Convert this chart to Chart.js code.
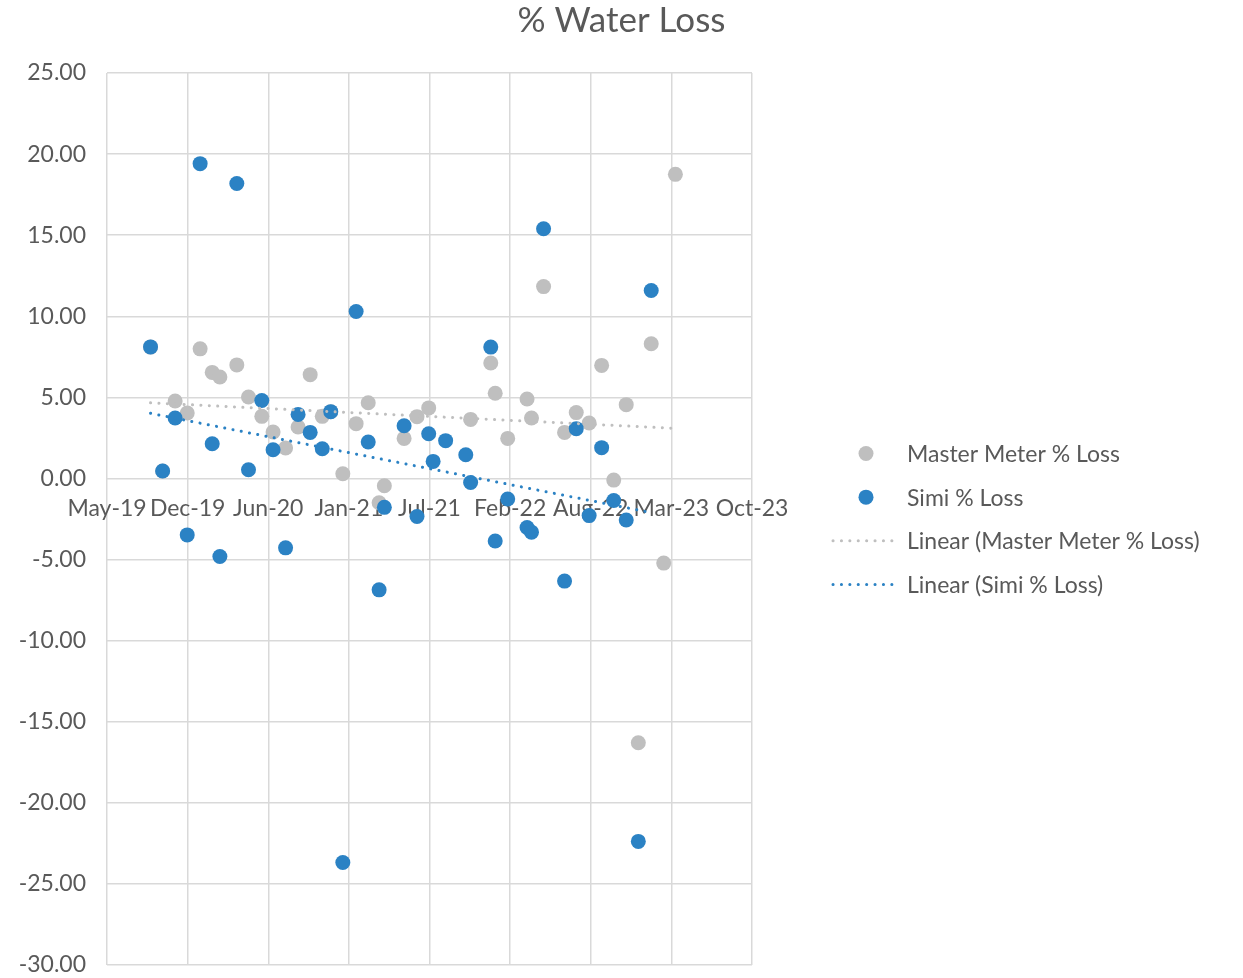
<!DOCTYPE html>
<html>
<head>
<meta charset="utf-8">
<title>% Water Loss</title>
<script src="https://cdn.jsdelivr.net/npm/chart.js@4.4.1/dist/chart.umd.min.js"></script>
<style>
    html, body { margin: 0; padding: 0; background: #ffffff; }
    canvas { display: block; }
</style>
</head>
<body>
<canvas id="waterLossChart" width="1243" height="978"></canvas>
<script>
// Reading dates (one per month)
const readingDates = [
    '2019-08-31', '2019-09-30', '2019-10-31', '2019-11-30', '2020-01-01', '2020-01-31',
    '2020-02-19', '2020-04-01', '2020-04-30', '2020-06-02', '2020-06-30', '2020-07-31',
    '2020-08-31', '2020-09-30', '2020-10-30', '2020-11-20', '2020-12-20', '2021-01-22',
    '2021-02-21', '2021-03-20', '2021-04-02', '2021-05-21', '2021-06-22', '2021-07-21',
    '2021-08-01', '2021-09-01', '2021-10-21', '2021-11-02', '2021-12-22', '2022-01-02',
    '2022-02-02', '2022-03-22', '2022-04-02', '2022-05-02', '2022-06-23', '2022-07-22',
    '2022-08-23', '2022-09-23', '2022-10-23', '2022-11-23', '2022-12-23', '2023-01-24',
    '2023-02-24', '2023-03-25'
];

// Master meter % loss for each reading (null = no value)
const masterMeterLoss = [
    8.10, 0.46, 4.78, 4.04, 7.99, 6.54,
    6.26, 7.00, 5.02, 3.83, 2.86, 1.88,
    3.17, 6.40, 3.83, 4.12, 0.29, 3.38,
    4.67, -1.50, -0.45, 2.47, 3.81, 4.35,
    null, null, null, 3.64, 7.12, 5.25,
    2.47, 4.90, 3.73, 11.83, 2.84, 4.06,
    3.42, 6.97, -0.10, 4.55, -16.30, 8.31,
    -5.22, 18.75
];

// Simi % loss for each reading (null = no value)
const simiLoss = [
    8.11, 0.46, 3.73, -3.48, 19.41, 2.14,
    -4.81, 18.19, 0.54, 4.81, 1.77, -4.28,
    3.95, 2.84, 1.83, 4.12, -23.68, 10.29,
    2.25, -6.87, -1.78, 3.25, -2.35, 2.76,
    1.05, 2.33, 1.46, -0.25, 8.10, -3.86,
    -1.27, -3.02, -3.31, 15.40, -6.33, 3.07,
    -2.29, 1.90, -1.36, -2.56, -22.38, 11.59,
    null, null
];

// Axis bounds: x in Excel date serials (May-19 .. Oct-23 every 200 days), y in percent
const xAxisMin = 43600;
const xAxisMax = 45200;
const xAxisStep = 200;
const yAxisMin = -30;
const yAxisMax = 25;
const yAxisStep = 5;

const monthNames = ['Jan', 'Feb', 'Mar', 'Apr', 'May', 'Jun', 'Jul', 'Aug', 'Sep', 'Oct', 'Nov', 'Dec'];

const grayColor = '#bfbfbf';
const blueColor = '#2b82c4';
const textColor = '#595959';
const fontFamily = 'Lato, "Open Sans", sans-serif';

// Convert 'YYYY-MM-DD' into an Excel date serial
function toSerial(dateText)
{
    const [y, m, d] = dateText.split('-').map(Number);
    return Date.UTC(y, m - 1, d) / 86400000 + 25569;
}

// Format a date serial like Excel's mmm-yy
function serialLabel(serial)
{
    const date = new Date((serial - 25569) * 86400000);
    return monthNames[date.getUTCMonth()] + '-' + String(date.getUTCFullYear()).slice(2);
}

// Build {x, y} points, leaving out blanks
function buildPoints(values)
{
    const points = [];
    values.forEach((v, i) => {
        if (v !== null) points.push({ x: toSerial(readingDates[i]), y: v });
    });
    return points;
}

// Least squares trend line over the first and last x of a series
function trendLine(points)
{
    const n = points.length;
    const mx = points.reduce((s, p) => s + p.x, 0) / n;
    const my = points.reduce((s, p) => s + p.y, 0) / n;
    let sxy = 0, sxx = 0;
    points.forEach(p => { sxy += (p.x - mx) * (p.y - my); sxx += (p.x - mx) * (p.x - mx); });
    const slope = sxy / sxx;
    const xs = points.map(p => p.x);
    const x0 = Math.min(...xs), x1 = Math.max(...xs);
    return [
        { x: x0, y: my + slope * (x0 - mx) },
        { x: x1, y: my + slope * (x1 - mx) }
    ];
}

// Scales must not push the plot area in with their own label padding
function noScalePadding(scale)
{
    scale.paddingTop = 0;
    scale.paddingBottom = 0;
    scale.paddingLeft = 0;
    scale.paddingRight = 0;
}

const masterPoints = buildPoints(masterMeterLoss);
const simiPoints = buildPoints(simiLoss);

// Legend drawn at the right of the plot, like Excel does
const sideLegend = {
    id: 'sideLegend',
    afterDraw(chart)
    {
        const ctx = chart.ctx;
        const area = chart.chartArea;
        const left = area.right + 79;
        const rowGap = 43.7;
        const midY = (area.top + area.bottom) / 2;
        const firstY = midY - rowGap * 1.5;
        const textX = left + 76;

        ctx.save();
        ctx.font = '23px ' + fontFamily;
        ctx.textBaseline = 'middle';
        ctx.textAlign = 'left';

        chart.data.datasets.forEach((ds, i) => {
            const y = firstY + i * rowGap;
            if (ds.type === 'scatter')
            {
                ctx.beginPath();
                ctx.fillStyle = ds.backgroundColor;
                ctx.arc(left + 35, y, 7.5, 0, Math.PI * 2);
                ctx.fill();
            }
            else
            {
                ctx.beginPath();
                ctx.strokeStyle = ds.borderColor;
                ctx.lineWidth = 3;
                ctx.lineCap = 'round';
                ctx.setLineDash([0.1, 8.3]);
                ctx.moveTo(left + 2, y);
                ctx.lineTo(left + 69, y);
                ctx.stroke();
                ctx.setLineDash([]);
            }
            ctx.fillStyle = textColor;
            ctx.fillText(ds.label, textX, y + 1);
        });
        ctx.restore();
    }
};

const ctx = document.getElementById('waterLossChart').getContext('2d');

new Chart(ctx,
{
    type: 'scatter',
    data:
    {
        datasets: [
            {
                type: 'scatter',
                label: 'Master Meter % Loss',
                data: masterPoints,
                backgroundColor: grayColor,
                borderWidth: 0,
                pointRadius: 7.5,
                order: 3
            },
            {
                type: 'scatter',
                label: 'Simi % Loss',
                data: simiPoints,
                backgroundColor: blueColor,
                borderWidth: 0,
                pointRadius: 7.5,
                order: 2
            },
            {
                type: 'line',
                label: 'Linear (Master Meter % Loss)',
                data: trendLine(masterPoints),
                borderColor: grayColor,
                borderWidth: 3,
                borderDash: [0.1, 8.3],
                borderCapStyle: 'round',
                pointRadius: 0,
                fill: false,
                order: 1
            },
            {
                type: 'line',
                label: 'Linear (Simi % Loss)',
                data: trendLine(simiPoints),
                borderColor: blueColor,
                borderWidth: 3,
                borderDash: [0.1, 8.3],
                borderCapStyle: 'round',
                pointRadius: 0,
                fill: false,
                order: 0
            }
        ]
    },
    options:
    {
        responsive: false,
        animation: false,
        devicePixelRatio: 1,
        events: [],
        layout: { padding: { left: 0, right: 0, top: 0, bottom: 13 } },
        plugins:
        {
            legend: { display: false },
            tooltip: { enabled: false },
            title:
            {
                display: true,
                text: '% Water Loss',
                color: textColor,
                font: { family: fontFamily, size: 35, weight: 'normal' },
                padding: { top: 0, bottom: 31 }
            }
        },
        scales:
        {
            x:
            {
                type: 'linear',
                position: { y: 0 },
                min: xAxisMin,
                max: xAxisMax,
                grid: { color: '#d9d9d9', lineWidth: 1.5, drawTicks: false },
                border: { display: false },
                ticks:
                {
                    stepSize: xAxisStep,
                    autoSkip: false,
                    maxRotation: 0,
                    padding: 16,
                    color: textColor,
                    font: { family: fontFamily, size: 23 },
                    callback: value => serialLabel(value)
                },
                afterFit: noScalePadding
            },
            y:
            {
                type: 'linear',
                position: 'left',
                min: yAxisMin,
                max: yAxisMax,
                grid: { color: '#d9d9d9', lineWidth: 1.5, drawTicks: false },
                border: { display: false },
                ticks:
                {
                    stepSize: yAxisStep,
                    padding: 21,
                    color: textColor,
                    font: { family: fontFamily, size: 23 },
                    callback: value => value.toFixed(2)
                },
                afterFit: scale => { noScalePadding(scale); scale.width = 107; }
            },
            // empty axis that keeps room on the right for the legend
            reserve:
            {
                type: 'linear',
                position: 'right',
                grid: { display: false },
                border: { display: false },
                ticks: { display: false },
                afterFit: scale => { noScalePadding(scale); scale.width = 491; }
            }
        }
    },
    plugins: [sideLegend]
});
</script>
</body>
</html>
